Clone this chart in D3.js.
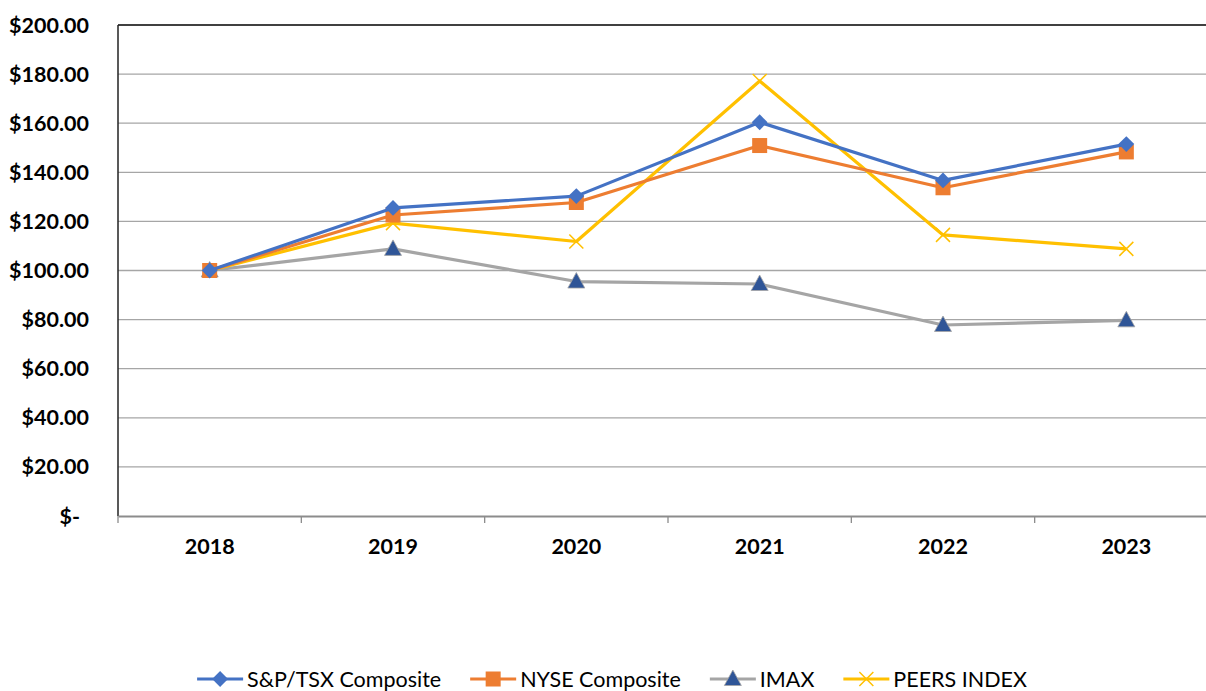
<!DOCTYPE html>
<html>
<head>
<meta charset="utf-8">
<script src="https://cdn.jsdelivr.net/npm/d3@7"></script>
<style>
	body { margin: 0; background: #fff; }
	svg { display: block; font-family: Lato, "Open Sans", sans-serif; }
</style>
</head>
<body>
<div id="chart"></div>
<script>
var years = ['2018', '2019', '2020', '2021', '2022', '2023'];
var seriesNames = ['S&P/TSX Composite', 'NYSE Composite', 'IMAX', 'PEERS INDEX'];
var tsxValues = [100, 125.5, 130.3, 160.4, 136.7, 151.5];
var nyseValues = [100, 122.6, 127.7, 150.9, 133.7, 148.3];
var imaxValues = [100, 108.8, 95.5, 94.5, 77.8, 79.7];
var peersValues = [100, 119.3, 111.8, 177.2, 114.5, 108.8];
var yTicks = [0, 20, 40, 60, 80, 100, 120, 140, 160, 180, 200];

var W = 1206, H = 691;
var margin = {top: 25, left: 118, bottom: 175};
var plotW = 1100;

var svg = d3.select('#chart').append('svg').attr('width', W).attr('height', H);

var x = d3.scaleBand().domain(years).range([margin.left, margin.left + plotW]);
var y = d3.scaleLinear().domain([0, 200]).range([H - margin.bottom, margin.top]);

var series = [
	{name: seriesNames[0], values: tsxValues, color: '#4472C4', marker: 'diamond'},
	{name: seriesNames[1], values: nyseValues, color: '#ED7D31', marker: 'square'},
	{name: seriesNames[2], values: imaxValues, color: '#A5A5A5', marker: 'triangle'},
	{name: seriesNames[3], values: peersValues, color: '#FFC000', marker: 'cross'}
];

// gridlines
svg.append('g')
	.selectAll('line')
	.data(yTicks.filter(function(t) { return t > 0 && t < 200; }))
	.enter().append('line')
	.attr('x1', margin.left).attr('x2', margin.left + plotW)
	.attr('y1', function(d) { return y(d); }).attr('y2', function(d) { return y(d); })
	.attr('stroke', '#a6a6a6').attr('stroke-width', 1.3);

// border top + left
svg.append('line').attr('x1', margin.left).attr('x2', margin.left + plotW)
	.attr('y1', y(200)).attr('y2', y(200)).attr('stroke', '#000').attr('stroke-width', 1.5);
svg.append('line').attr('x1', margin.left).attr('x2', margin.left)
	.attr('y1', y(200)).attr('y2', y(0)).attr('stroke', '#222').attr('stroke-width', 1.5);

// y axis labels
var fmt = d3.format(',.2f');
svg.append('g')
	.selectAll('text')
	.data(yTicks)
	.enter().append('text')
	.attr('x', function(d) { return d === 0 ? 80 : 89; })
	.attr('y', function(d) { return y(d); })
	.attr('dy', '0.35em')
	.attr('text-anchor', 'end')
	.attr('font-weight', 'bold')
	.attr('font-size', 21.5)
	.attr('fill', '#000')
	.text(function(d) { return d === 0 ? '$-' : '$' + fmt(d); });

// x axis
var xAxis = d3.axisBottom(x).tickSize(0).tickPadding(23);
var gx = svg.append('g').attr('transform', 'translate(0,' + y(0) + ')').call(xAxis);
gx.select('.domain').attr('stroke', '#8c8c8c').attr('stroke-width', 2);
gx.selectAll('text').attr('font-size', 21.5).attr('font-weight', 'bold')
	.attr('font-family', 'Lato, sans-serif').attr('fill', '#000');
gx.selectAll('.sep')
	.data(d3.range(years.length + 1))
	.enter().append('line')
	.attr('class', 'sep')
	.attr('x1', function(i) { return margin.left + i * x.step(); })
	.attr('x2', function(i) { return margin.left + i * x.step(); })
	.attr('y1', 0).attr('y2', 7)
	.attr('stroke', '#8c8c8c').attr('stroke-width', 1.3);

var line = d3.line()
	.x(function(d, i) { return x(years[i]) + x.bandwidth() / 2; })
	.y(function(d) { return y(d); });

function drawMarker(g, type, color) {
	if (type === 'diamond') {
		g.append('path').attr('d', d3.symbol(d3.symbolDiamond2, 160)()).attr('fill', color);
	} else if (type === 'square') {
		g.append('rect').attr('x', -7.5).attr('y', -7.5).attr('width', 15).attr('height', 15).attr('fill', color);
	} else if (type === 'triangle') {
		g.append('path').attr('d', 'M0,-9L8.5,6.5L-8.5,6.5Z').attr('fill', '#2F5597').attr('stroke', '#A5A5A5').attr('stroke-width', 0.8);
	} else {
		g.append('path').attr('d', 'M-7,-7L7,7M-7,7L7,-7').attr('stroke', color).attr('stroke-width', 1.5).attr('fill', 'none');
	}
}

// draw in order so that TSX/NYSE sit on top like the original
var drawOrder = [2, 3, 1, 0];
drawOrder.forEach(function(si) {
	var s = series[si];
	var g = svg.append('g');
	g.append('path').datum(s.values)
		.attr('d', line)
		.attr('fill', 'none')
		.attr('stroke', s.color)
		.attr('stroke-width', 3.2)
		.attr('stroke-linejoin', 'round');
	g.selectAll('.m')
		.data(s.values)
		.enter().append('g')
		.attr('class', 'm')
		.attr('transform', function(d, i) {
			return 'translate(' + (x(years[i]) + x.bandwidth() / 2) + ',' + y(d) + ')';
		})
		.each(function() { drawMarker(d3.select(this), s.marker, s.color); });
});

// legend
var legend = svg.append('g');
var lx = 0;
series.forEach(function(s) {
	var item = legend.append('g').attr('transform', 'translate(' + lx + ',0)');
	item.append('line').attr('x1', 0).attr('x2', 46).attr('y1', 0).attr('y2', 0)
		.attr('stroke', s.color).attr('stroke-width', 3.2);
	var m = item.append('g').attr('transform', 'translate(23,0)');
	drawMarker(m, s.marker, s.color);
	var t = item.append('text').attr('x', 50).attr('y', 0).attr('dy', '0.35em')
		.attr('font-size', 21.5).attr('fill', '#000').text(s.name);
	lx += 50 + t.node().getComputedTextLength() + 29;
});
lx -= 29;
legend.attr('transform', 'translate(' + (612 - lx / 2) + ',679)');
</script>
</body>
</html>
